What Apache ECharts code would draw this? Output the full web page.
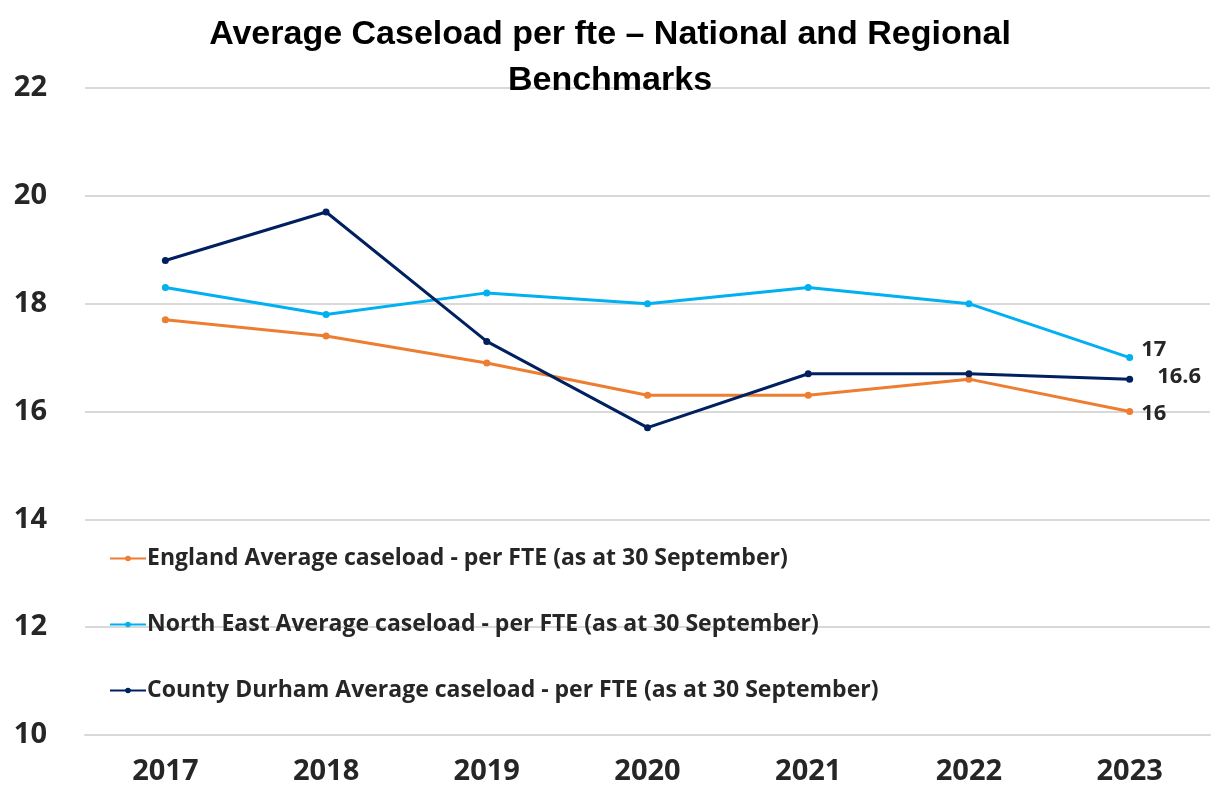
<!DOCTYPE html>
<html>
<head>
<meta charset="utf-8">
<script src="https://cdn.jsdelivr.net/npm/echarts@6/dist/echarts.min.js"></script>
<style>
  html, body { margin: 0; padding: 0; background: #fff; }
  #main { width: 1222px; height: 795px; }
</style>
</head>
<body>
<div id="main"></div>
<script>
const years = ['2017', '2018', '2019', '2020', '2021', '2022', '2023']
const england = [17.7, 17.4, 16.9, 16.3, 16.3, 16.6, 16]
const northEast = [18.3, 17.8, 18.2, 18.0, 18.3, 18.0, 17]
const durham = [18.8, 19.7, 17.3, 15.7, 16.7, 16.7, 16.6]
const seriesNames = [
  'England Average caseload - per FTE (as at 30 September)',
  'North East Average caseload - per FTE (as at 30 September)',
  'County Durham Average caseload - per FTE (as at 30 September)'
]
const colors = ['#ED7D31', '#00B0F0', '#002060']

const chart = echarts.init(document.getElementById('main'))

function lastLabel(offset) {
  return {
    show: true,
    position: 'right',
    distance: 8,
    offset: offset,
    color: '#262626',
    fontFamily: 'Open Sans',
    fontWeight: 'bold',
    fontSize: 22,
    formatter: p => (p.dataIndex === years.length - 1 ? String(p.value) : '')
  }
}

function makeSeries(i, data, offset) {
  return {
    name: seriesNames[i],
    type: 'line',
    data: data,
    symbol: 'circle',
    symbolSize: 7,
    lineStyle: { width: 3, color: colors[i] },
    itemStyle: { color: colors[i] },
    label: lastLabel(offset),
    z: i === 2 ? 4 : 3
  }
}

const option = {
  animation: false,
  title: {
    text: 'Average Caseload per fte – National and Regional\nBenchmarks',
    left: 605,
    textAlign: 'center',
    top: 7,
    textStyle: {
      fontFamily: 'Liberation Sans',
      fontWeight: 'bold',
      fontSize: 34,
      lineHeight: 46,
      color: '#000'
    }
  },
  legend: {
    orient: 'vertical',
    left: 104,
    top: 542,
    itemGap: 43,
    itemWidth: 36,
    itemHeight: 7,
    textStyle: {
      fontFamily: 'Open Sans',
      fontWeight: 'bold',
      fontSize: 23,
      padding: [0, 0, 0, -4],
      color: '#262626'
    },
    data: seriesNames
  },
  grid: { left: 85, right: 12, top: 88, bottom: 60 },
  xAxis: {
    type: 'category',
    data: years,
    boundaryGap: true,
    axisLine: { show: true, lineStyle: { color: '#D9D9D9', width: 2 } },
    axisTick: { show: false },
    axisLabel: {
      margin: 22,
      color: '#262626',
      fontFamily: 'Open Sans',
      fontWeight: 'bold',
      fontSize: 29
    }
  },
  yAxis: {
    type: 'value',
    min: 10,
    max: 22,
    interval: 2,
    axisLine: { show: false },
    axisTick: { show: false },
    splitLine: { lineStyle: { color: '#D9D9D9', width: 2 } },
    axisLabel: {
      margin: 38,
      color: '#262626',
      fontFamily: 'Open Sans',
      fontWeight: 'bold',
      fontSize: 29
    }
  },
  series: [
    makeSeries(0, england, [0, 2]),
    makeSeries(1, northEast, [0, -8]),
    makeSeries(2, durham, [16, -2])
  ]
}

chart.setOption(option)
</script>
</body>
</html>
